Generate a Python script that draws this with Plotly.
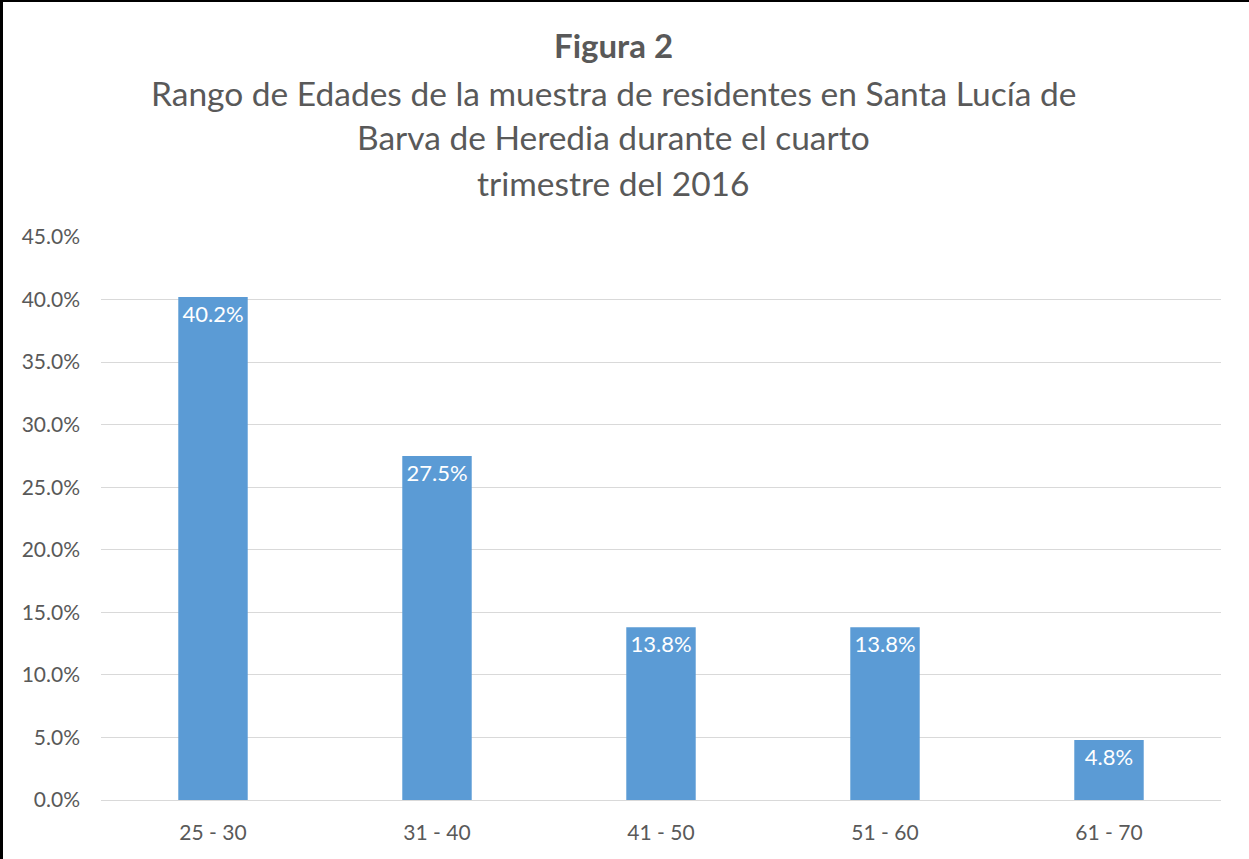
import plotly.graph_objects as go

categories = ["25 - 30", "31 - 40", "41 - 50", "51 - 60", "61 - 70"]
values = [0.402, 0.275, 0.138, 0.138, 0.048]
labels = ["40.2%", "27.5%", "13.8%", "13.8%", "4.8%"]

title_lines = [
    "<b>Figura 2</b>",
    "Rango de Edades de la muestra de residentes en Santa Lucía de",
    "Barva de Heredia durante el cuarto",
    "trimestre del 2016",
]

W, H = 1249, 859
L, R, T, B = 101, 28, 237, 59
PW, PH = W - L - R, H - T - B

def px(x):
    return (x - L) / PW

def py(y):
    return (H - B - y) / PH

FONT = "Lato"

fig = go.Figure(
    go.Bar(
        x=categories,
        y=values,
        text=labels,
        textposition="inside",
        insidetextanchor="end",
        textangle=0,
        constraintext="none",
        textfont=dict(color="white", size=22, family=FONT),
        marker=dict(color="#5B9BD5", line=dict(width=0)),
        width=0.31,
        hoverinfo="skip",
    )
)

line_y = [45, 93, 137, 183]
sizes = [33, 33.5, 33.5, 33.5]
for t, yy, s in zip(title_lines, line_y, sizes):
    fig.add_annotation(
        text=t, x=px(613), y=py(yy), xref="paper", yref="paper",
        xanchor="center", yanchor="middle", showarrow=False,
        font=dict(family=FONT, size=s, color="#595959"),
    )

# border (top and left only)
fig.add_shape(type="line", xref="paper", yref="paper",
              x0=px(1.5), x1=px(1.5), y0=py(0), y1=py(H),
              line=dict(color="black", width=3))
fig.add_shape(type="line", xref="paper", yref="paper",
              x0=px(0), x1=px(W), y0=py(1), y1=py(1),
              line=dict(color="black", width=2))

fig.update_layout(
    width=W, height=H,
    margin=dict(l=L, r=R, t=T, b=B, pad=0),
    paper_bgcolor="white", plot_bgcolor="white",
    showlegend=False,
    font=dict(family=FONT, color="#595959", size=21),
    bargap=0.69,
)
fig.update_yaxes(
    range=[0, 0.45], tickvals=[i * 0.05 for i in range(10)],
    tickformat=".1%", showgrid=True, gridcolor="#D9D9D9", gridwidth=1.3,
    zeroline=False, showline=False, ticks="", ticklabelstandoff=20,
    tickfont=dict(size=21, color="#595959", family=FONT),
)
fig.update_xaxes(
    showgrid=False, showline=True, linecolor="#D9D9D9", linewidth=1.3,
    ticks="", ticklabelstandoff=14,
    tickfont=dict(size=21, color="#595959", family=FONT),
)

fig.write_html(
    "out.html",
    config={"displayModeBar": False},
    post_script="document.body.style.margin='0';document.body.style.overflow='hidden';",
)
